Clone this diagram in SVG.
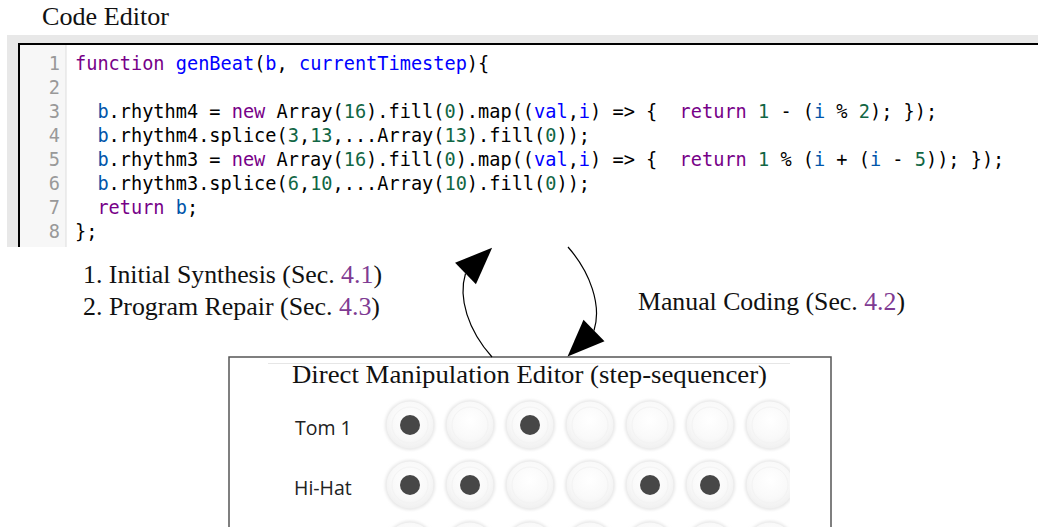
<svg xmlns="http://www.w3.org/2000/svg" xmlns:xlink="http://www.w3.org/1999/xlink" width="1038" height="527" viewBox="0 0 1038 527">
<style>
.serif{font-family:"Liberation Serif","Times New Roman",serif;font-size:26px;fill:#111}
.ref{fill:#7f3b92}
.code{font-family:"DejaVu Sans Mono","Liberation Mono",monospace;font-size:18.6px;fill:#000;white-space:pre}
.ln{font-family:"DejaVu Sans Mono","Liberation Mono",monospace;font-size:18.6px;fill:#999;text-anchor:end}
.kw{fill:#770088}
.def{fill:#0000ff}
.v2{fill:#0055aa}
.num{fill:#116644}
.sans{font-family:"Open Sans","Noto Sans",sans-serif;font-size:19.5px;fill:#222}
.conn{fill:none;stroke:#000;stroke-width:1.2}
.dot{fill:#474747}
</style>
<defs>
<radialGradient id="btnGrad" cx="50%" cy="40%" r="60%">
<stop offset="0" stop-color="#ffffff"/>
<stop offset="0.65" stop-color="#f9f9f9"/>
<stop offset="1" stop-color="#f0f0f0"/>
</radialGradient>
<filter id="soft" x="-30%" y="-30%" width="160%" height="160%">
<feGaussianBlur stdDeviation="1.6"/>
</filter>
<filter id="dotblur" x="-30%" y="-30%" width="160%" height="160%">
<feGaussianBlur stdDeviation="0.6"/>
</filter>
<g id="btn">
<circle r="25" fill="#e6e6e6" filter="url(#soft)"/>
<circle r="23.5" fill="url(#btnGrad)"/>
<circle r="18" fill="none" stroke="#f3f3f3" stroke-width="1"/>
</g>
<clipPath id="seqClip"><rect x="268" y="363" width="522" height="164"/></clipPath>
<marker id="ahL" markerUnits="userSpaceOnUse" viewBox="0 0 37 30" refX="0" refY="15" markerWidth="37" markerHeight="30" orient="-44" overflow="visible">
<path d="M0,0 L37,15 L0,30 Z" fill="#000"/>
</marker>
<marker id="ahR" markerUnits="userSpaceOnUse" viewBox="0 0 37 30" refX="0" refY="15" markerWidth="37" markerHeight="30" orient="135.6" overflow="visible">
<path d="M0,0 L37,15 L0,30 Z" fill="#000"/>
</marker>
</defs>
<rect x="0" y="0" width="1038" height="527" fill="#fff"/>

<g id="code-editor">
<text class="serif" x="42" y="25" textLength="127" lengthAdjust="spacingAndGlyphs">Code Editor</text>
<rect x="7" y="35" width="1031" height="212" fill="#e8e8e8"/>
<rect x="18" y="43" width="1020" height="204" fill="#fff"/>
<rect x="19" y="44" width="47" height="203" fill="#f7f7f7"/>
<line x1="66" y1="44" x2="66" y2="247" stroke="#dddddd" stroke-width="1"/>
<path d="M19,247 V44 H1038" fill="none" stroke="#000" stroke-width="2"/>
<g class="ln">
<text x="60" y="69.5">1</text>
<text x="60" y="93.6">2</text>
<text x="60" y="117.7">3</text>
<text x="60" y="141.8">4</text>
<text x="60" y="165.9">5</text>
<text x="60" y="190">6</text>
<text x="60" y="214.1">7</text>
<text x="60" y="238.2">8</text>
</g>
<g class="code">
<text x="75" y="69.5" xml:space="preserve"><tspan class="kw">function</tspan> <tspan class="def">genBeat</tspan>(<tspan class="def">b</tspan>, <tspan class="def">currentTimestep</tspan>){</text>
<text x="75" y="117.7" xml:space="preserve">  <tspan class="v2">b</tspan>.rhythm4 = <tspan class="kw">new</tspan> Array(<tspan class="num">16</tspan>).fill(<tspan class="num">0</tspan>).map((<tspan class="def">val</tspan>,<tspan class="def">i</tspan>) =&gt; {  <tspan class="kw">return</tspan> <tspan class="num">1</tspan> - (<tspan class="v2">i</tspan> % <tspan class="num">2</tspan>); });</text>
<text x="75" y="141.8" xml:space="preserve">  <tspan class="v2">b</tspan>.rhythm4.splice(<tspan class="num">3</tspan>,<tspan class="num">13</tspan>,...Array(<tspan class="num">13</tspan>).fill(<tspan class="num">0</tspan>));</text>
<text x="75" y="165.9" xml:space="preserve">  <tspan class="v2">b</tspan>.rhythm3 = <tspan class="kw">new</tspan> Array(<tspan class="num">16</tspan>).fill(<tspan class="num">0</tspan>).map((<tspan class="def">val</tspan>,<tspan class="def">i</tspan>) =&gt; {  <tspan class="kw">return</tspan> <tspan class="num">1</tspan> % (<tspan class="v2">i</tspan> + (<tspan class="v2">i</tspan> - <tspan class="num">5</tspan>)); });</text>
<text x="75" y="190" xml:space="preserve">  <tspan class="v2">b</tspan>.rhythm3.splice(<tspan class="num">6</tspan>,<tspan class="num">10</tspan>,...Array(<tspan class="num">10</tspan>).fill(<tspan class="num">0</tspan>));</text>
<text x="75" y="214.1" xml:space="preserve">  <tspan class="kw">return</tspan> <tspan class="v2">b</tspan>;</text>
<text x="75" y="238.2">};</text>
</g>
</g>

<g id="dm-editor">
<rect x="229" y="357" width="602" height="200" fill="#fff" stroke="#555" stroke-width="1.5"/>
<line x1="268" y1="363.5" x2="790" y2="363.5" stroke="#e6e6e6" stroke-width="1"/>
<text class="serif" x="292" y="383" textLength="475" lengthAdjust="spacingAndGlyphs">Direct Manipulation Editor (step-sequencer)</text>
<text class="sans" x="295" y="435">Tom 1</text>
<text class="sans" x="294" y="495">Hi-Hat</text>
<g clip-path="url(#seqClip)">
<use xlink:href="#btn" x="410" y="425"/>
<use xlink:href="#btn" x="470" y="425"/>
<use xlink:href="#btn" x="530" y="425"/>
<use xlink:href="#btn" x="590" y="425"/>
<use xlink:href="#btn" x="650" y="425"/>
<use xlink:href="#btn" x="710" y="425"/>
<use xlink:href="#btn" x="770" y="425"/>
<use xlink:href="#btn" x="410" y="485"/>
<use xlink:href="#btn" x="470" y="485"/>
<use xlink:href="#btn" x="530" y="485"/>
<use xlink:href="#btn" x="590" y="485"/>
<use xlink:href="#btn" x="650" y="485"/>
<use xlink:href="#btn" x="710" y="485"/>
<use xlink:href="#btn" x="770" y="485"/>
<use xlink:href="#btn" x="410" y="546"/>
<use xlink:href="#btn" x="470" y="546"/>
<use xlink:href="#btn" x="530" y="546"/>
<use xlink:href="#btn" x="590" y="546"/>
<use xlink:href="#btn" x="650" y="546"/>
<use xlink:href="#btn" x="710" y="546"/>
<use xlink:href="#btn" x="770" y="546"/>
<g filter="url(#dotblur)">
<circle class="dot" cx="410" cy="425" r="10"/>
<circle class="dot" cx="530" cy="425" r="10"/>
<circle class="dot" cx="410" cy="485" r="10"/>
<circle class="dot" cx="470" cy="485" r="10"/>
<circle class="dot" cx="650" cy="485" r="10"/>
<circle class="dot" cx="710" cy="485" r="10"/>
</g>
</g>
</g>

<g id="connectors">
<path class="conn" d="M492,357 C468,330 458,298 465.5,273.5" marker-end="url(#ahL)"/>
<path class="conn" d="M568,247 C590,272 602,305 594,330.5" marker-end="url(#ahR)"/>
<text class="serif" x="83" y="283" textLength="299" lengthAdjust="spacingAndGlyphs">1. Initial Synthesis (Sec. <tspan class="ref">4.1</tspan>)</text>
<text class="serif" x="83" y="315" textLength="297" lengthAdjust="spacingAndGlyphs">2. Program Repair (Sec. <tspan class="ref">4.3</tspan>)</text>
<text class="serif" x="638" y="310" textLength="267" lengthAdjust="spacingAndGlyphs">Manual Coding (Sec. <tspan class="ref">4.2</tspan>)</text>
</g>
</svg>
